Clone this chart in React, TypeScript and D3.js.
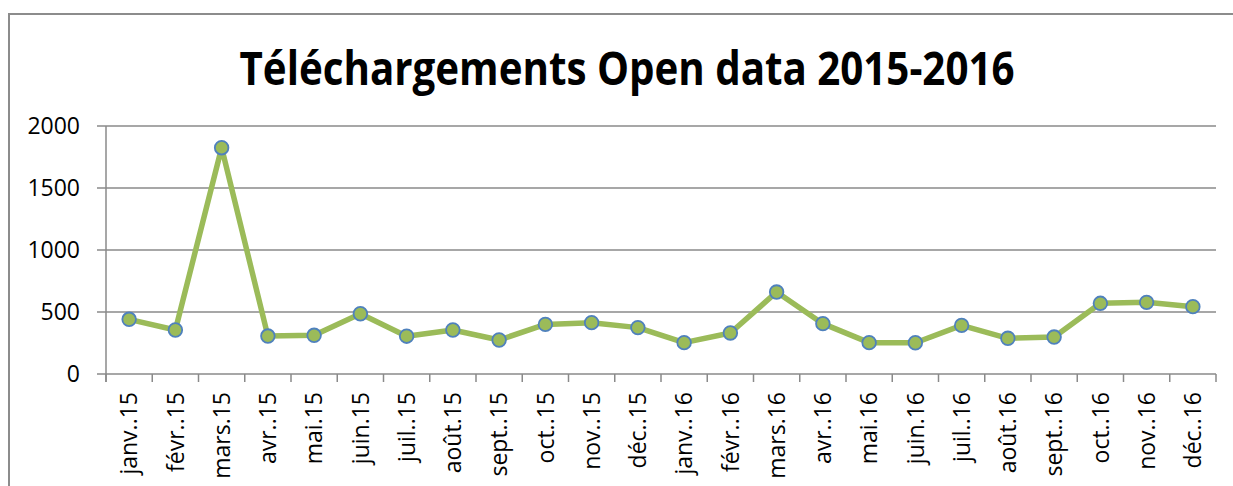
import React, { useEffect, useRef } from "react";
import * as d3 from "d3";

const months = [
  "janv..15", "févr..15", "mars.15", "avr..15", "mai.15", "juin.15",
  "juil..15", "août.15", "sept..15", "oct..15", "nov..15", "déc..15",
  "janv..16", "févr..16", "mars.16", "avr..16", "mai.16", "juin.16",
  "juil..16", "août.16", "sept..16", "oct..16", "nov..16", "déc..16",
];

const downloads = [
  441, 355, 1825, 306, 312, 486, 305, 355, 274, 400, 414, 374,
  253, 331, 661, 406, 253, 252, 392, 288, 298, 570, 578, 543,
];

const yTicks = [0, 500, 1000, 1500, 2000];

const title = "Téléchargements Open data 2015-2016";

export default function App() {
  const svgRef = useRef<SVGSVGElement>(null);

  useEffect(() => {
    const width = 1233;
    const height = 486;
    const plot = { left: 106, right: 1216, top: 126, bottom: 374 };
    const font = "'Open Sans', 'Noto Sans', sans-serif";

    const svg = d3.select(svgRef.current).attr("width", width).attr("height", height);
    svg.selectAll("*").remove();

    // outer chart frame (runs off the right and bottom edges)
    svg
      .append("rect")
      .attr("x", 9)
      .attr("y", 14)
      .attr("width", 1240)
      .attr("height", 500)
      .attr("fill", "#fff")
      .attr("stroke", "#8c8c8c")
      .attr("stroke-width", 2);

    // title
    svg
      .append("text")
      .attr("x", 627)
      .attr("y", 85)
      .attr("text-anchor", "middle")
      .attr("textLength", 775)
      .attr("lengthAdjust", "spacingAndGlyphs")
      .style("font-family", font)
      .style("font-size", "47px")
      .style("font-weight", 700)
      .attr("fill", "#000")
      .text(title);

    const x = d3
      .scaleBand<string>()
      .domain(months)
      .range([plot.left, plot.right]);

    const y = d3
      .scaleLinear()
      .domain([0, 2000])
      .range([plot.bottom, plot.top]);

    // gridlines + left ticks
    svg
      .append("g")
      .selectAll("line")
      .data(yTicks)
      .join("line")
      .attr("x1", plot.left - 9)
      .attr("x2", plot.right)
      .attr("y1", (d) => y(d))
      .attr("y2", (d) => y(d))
      .attr("stroke", "#8a8a8a")
      .attr("stroke-width", 1.5);

    // y axis line
    svg
      .append("line")
      .attr("x1", plot.left)
      .attr("x2", plot.left)
      .attr("y1", plot.top)
      .attr("y2", plot.bottom + 8)
      .attr("stroke", "#8a8a8a")
      .attr("stroke-width", 1.5);

    // y labels
    svg
      .append("g")
      .selectAll("text")
      .data(yTicks)
      .join("text")
      .attr("x", 80)
      .attr("y", (d) => y(d))
      .attr("dy", "0.36em")
      .attr("text-anchor", "end")
      .style("font-family", font)
      .style("font-size", "23px")
      .attr("fill", "#000")
      .text((d) => String(d));

    // x ticks at category boundaries
    const bounds = months.map((m) => x(m)!).concat([plot.right]);
    svg
      .append("g")
      .selectAll("line")
      .data(bounds)
      .join("line")
      .attr("x1", (d) => d)
      .attr("x2", (d) => d)
      .attr("y1", plot.bottom)
      .attr("y2", plot.bottom + 8)
      .attr("stroke", "#8a8a8a")
      .attr("stroke-width", 1.5);

    // x labels, rotated
    svg
      .append("g")
      .selectAll("text")
      .data(months)
      .join("text")
      .attr(
        "transform",
        (d) => `translate(${x(d)! + x.bandwidth() / 2}, 392) rotate(-90)`,
      )
      .attr("dy", "0.36em")
      .attr("text-anchor", "end")
      .style("font-family", font)
      .style("font-size", "23px")
      .attr("fill", "#000")
      .text((d) => d);

    // line
    const line = d3
      .line<number>()
      .x((_, i) => x(months[i])! + x.bandwidth() / 2)
      .y((d) => y(d));

    svg
      .append("path")
      .datum(downloads)
      .attr("fill", "none")
      .attr("stroke", "#9bbb59")
      .attr("stroke-width", 5.5)
      .attr("stroke-linejoin", "round")
      .attr("d", line);

    // markers
    svg
      .append("g")
      .selectAll("circle")
      .data(downloads)
      .join("circle")
      .attr("cx", (_, i) => x(months[i])! + x.bandwidth() / 2)
      .attr("cy", (d) => y(d))
      .attr("r", 6.8)
      .attr("fill", "#9bbb59")
      .attr("stroke", "#4f81bd")
      .attr("stroke-width", 1.8);
  }, []);

  return (
    <svg
      ref={svgRef}
      style={{ position: "absolute", left: 0, top: 0, display: "block" }}
    />
  );
}
